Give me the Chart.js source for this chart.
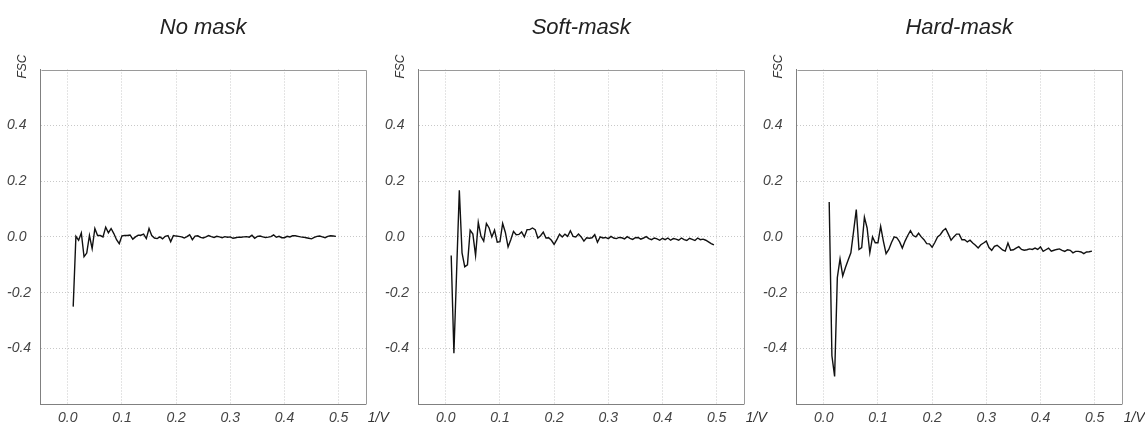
<!DOCTYPE html>
<html>
<head>
<meta charset="utf-8">
<title>FSC</title>
<script src="https://cdn.jsdelivr.net/npm/chart.js@4/dist/chart.umd.min.js"></script>
<style>
    html, body { margin: 0; padding: 0; background: #fff; overflow: hidden; }
    #wrap { position: relative; width: 1145px; height: 425px; }
    #wrap canvas { position: absolute; top: 0; }
</style>
</head>
<body>
<div id="wrap">
    <canvas id="chartNoMask" width="390" height="425" style="left:0px"></canvas>
    <canvas id="chartSoftMask" width="390" height="425" style="left:378px"></canvas>
    <canvas id="chartHardMask" width="390" height="425" style="left:756px"></canvas>
</div>
<script>
// Dados
const titles = ['No mask', 'Soft-mask', 'Hard-mask'];
const xTicks = [0.0, 0.1, 0.2, 0.3, 0.4, 0.5];
const yTicks = [-0.4, -0.2, 0.0, 0.2, 0.4];
const xLabel = '1/V';
const yLabel = 'FSC';

const freq = [
    0.010, 0.015, 0.020, 0.025, 0.030, 0.035, 0.040, 0.045, 0.050, 0.055,
    0.060, 0.065, 0.070, 0.075, 0.080, 0.085, 0.090, 0.095, 0.100, 0.105,
    0.110, 0.115, 0.120, 0.125, 0.130, 0.135, 0.140, 0.145, 0.150, 0.155,
    0.160, 0.165, 0.170, 0.175, 0.180, 0.185, 0.190, 0.195, 0.200, 0.205,
    0.210, 0.215, 0.220, 0.225, 0.230, 0.235, 0.240, 0.245, 0.250, 0.255,
    0.260, 0.265, 0.270, 0.275, 0.280, 0.285, 0.290, 0.295, 0.300, 0.305,
    0.310, 0.315, 0.320, 0.325, 0.330, 0.335, 0.340, 0.345, 0.350, 0.355,
    0.360, 0.365, 0.370, 0.375, 0.380, 0.385, 0.390, 0.395, 0.400, 0.405,
    0.410, 0.415, 0.420, 0.425, 0.430, 0.435, 0.440, 0.445, 0.450, 0.455,
    0.460, 0.465, 0.470, 0.475, 0.480, 0.485, 0.490, 0.495
];

const noMask = [
    -0.25, 0.002, -0.012, 0.014, -0.071, -0.058, 0.005, -0.042, 0.03, 0.005,
    0.005, 0.0, 0.035, 0.015, 0.03, 0.012, -0.01, -0.024, 0.004, 0.005,
    0.005, 0.007, -0.008, 0.0, 0.006, 0.006, 0.01, -0.006, 0.03, 0.005,
    -0.004, -0.006, 0.0, -0.007, 0.002, 0.005, -0.017, 0.005, 0.003, 0.002,
    0.0, -0.004, 0.001, 0.008, -0.01, 0.003, 0.004, -0.002, -0.004, 0.0,
    0.005, 0.001, -0.002, 0.002, 0.0, -0.003, 0.001, -0.001, 0.0, -0.005,
    -0.003, -0.001, -0.001, 0.0, 0.001, -0.001, 0.006, -0.005, 0.002, 0.003,
    0.0, -0.002, -0.001, 0.001, 0.007, -0.001, 0.002, -0.003, -0.003, 0.002,
    0.0, 0.004, 0.004, 0.002, 0.0, -0.001, -0.003, -0.005, -0.007, -0.002,
    0.002, 0.003, 0.0, -0.003, 0.002, 0.004, 0.003, 0.002
];

const softMask = [
    -0.067, -0.417, -0.125, 0.167, -0.057, -0.107, -0.10, 0.024, 0.01, -0.067,
    0.052, 0.002, -0.015, 0.048, 0.032, 0.0, 0.024, -0.019, -0.017, 0.048,
    0.016, -0.036, -0.01, 0.02, 0.008, 0.009, 0.018, 0.0, 0.026, 0.026,
    0.032, 0.026, -0.004, 0.004, 0.017, -0.004, -0.003, -0.012, -0.027, -0.01,
    0.01, 0.0, 0.01, 0.002, 0.022, 0.002, 0.0, 0.01, 0.0, -0.015,
    -0.003, -0.005, -0.003, 0.008, -0.019, 0.0, -0.004, -0.002, -0.006, 0.002,
    -0.004, -0.006, -0.002, -0.003, -0.007, 0.001, -0.005, -0.009, -0.003, -0.002,
    -0.008, -0.004, 0.001, -0.006, -0.01, -0.004, -0.007, -0.012, -0.005, -0.01,
    -0.004, -0.012, -0.006, -0.008, -0.012, -0.004, -0.01, -0.013, -0.005, -0.009,
    -0.013, -0.004, -0.01, -0.008, -0.012, -0.018, -0.024, -0.029
];

const hardMask = [
    0.125, -0.426, -0.50, -0.146, -0.079, -0.14, -0.11, -0.083, -0.057, 0.02,
    0.098, -0.045, -0.038, 0.071, 0.032, -0.057, 0.0, -0.021, -0.021, 0.038,
    -0.015, -0.06, -0.045, -0.02, 0.0, -0.003, -0.018, -0.04, -0.015, 0.005,
    0.022, 0.005, 0.0, 0.013, 0.0, -0.01, -0.024, -0.025, -0.037, -0.02,
    0.0, 0.008, 0.022, 0.03, 0.01, -0.012, 0.0, 0.01, 0.01, -0.01,
    -0.01, -0.018, -0.012, -0.022, -0.03, -0.04, -0.028, -0.022, -0.015, -0.038,
    -0.048, -0.034, -0.03, -0.038, -0.047, -0.051, -0.022, -0.048, -0.046, -0.04,
    -0.035, -0.045, -0.048, -0.046, -0.043, -0.045, -0.04, -0.045, -0.036, -0.052,
    -0.046, -0.04, -0.051, -0.048, -0.045, -0.043, -0.048, -0.052, -0.046, -0.048,
    -0.057, -0.052, -0.052, -0.054, -0.06, -0.054, -0.053, -0.051
];

const fontFamily = '"Liberation Sans", Arial, Helvetica, sans-serif';
const tickFont = { family: fontFamily, size: 14, style: 'italic' };

// Moldura superior/direita e rótulos dos eixos
const framePlugin = {
    id: 'frame',
    afterDraw(chart) {
        const { ctx, chartArea: a } = chart;
        ctx.save();
        ctx.strokeStyle = '#9a9a9a';
        ctx.lineWidth = 1;
        ctx.beginPath();
        ctx.moveTo(Math.round(a.left) + 0.5, Math.round(a.top) + 0.5);
        ctx.lineTo(Math.round(a.right) + 0.5, Math.round(a.top) + 0.5);
        ctx.lineTo(Math.round(a.right) + 0.5, Math.round(a.bottom) + 0.5);
        ctx.stroke();

        ctx.fillStyle = '#333';
        ctx.font = 'italic 14px ' + fontFamily;
        ctx.textAlign = 'left';
        ctx.textBaseline = 'middle';
        ctx.fillText(xLabel, a.right + 2, 418);

        ctx.translate(22.5, 66.5);
        ctx.rotate(-Math.PI / 2);
        ctx.font = 'italic 12px ' + fontFamily;
        ctx.textAlign = 'center';
        ctx.fillText(yLabel, 0, 0);
        ctx.restore();
    }
};

function makeChart(id, title, values) {
    const ctx = document.getElementById(id).getContext('2d');
    return new Chart(ctx, {
        type: 'line',
        data: {
            datasets: [{
                data: freq.map((f, i) => ({ x: f, y: values[i] })),
                borderColor: '#111',
                borderWidth: 1.4,
                pointRadius: 0,
                tension: 0,
                fill: false
            }]
        },
        options: {
            responsive: false,
            animation: false,
            devicePixelRatio: 1,
            layout: { padding: { left: 7, right: 24.3, top: 0, bottom: 0 } },
            plugins: {
                legend: { display: false },
                tooltip: { enabled: false },
                title: {
                    display: true,
                    text: title,
                    fullSize: false,
                    color: '#222',
                    font: { family: fontFamily, size: 22, style: 'italic', weight: 'normal' },
                    padding: { top: 15, bottom: 28.1 }
                }
            },
            scales: {
                x: {
                    type: 'linear',
                    min: -0.05,
                    max: 0.55,
                    afterBuildTicks: s => { s.ticks = xTicks.map(v => ({ value: v })); },
                    afterFit: s => { s.height = 20.7; },
                    ticks: {
                        callback: v => v.toFixed(1),
                        font: tickFont,
                        color: '#444',
                        padding: 5,
                        maxRotation: 0,
                        autoSkip: false
                    },
                    grid: { color: '#c8c8c8', drawTicks: false, tickLength: 0 },
                    border: { color: '#808080', width: 1, dash: [1, 2] }
                },
                y: {
                    min: -0.6,
                    max: 0.6,
                    afterBuildTicks: s => { s.ticks = yTicks.map(v => ({ value: v })); },
                    afterFit: s => { s.width = 33.7; },
                    ticks: {
                        callback: v => v.toFixed(1),
                        font: tickFont,
                        color: '#444',
                        crossAlign: 'far',
                        padding: 0,
                        autoSkip: false
                    },
                    grid: { color: '#c8c8c8', drawTicks: false, tickLength: 0 },
                    border: { color: '#808080', width: 1, dash: [1, 2] }
                }
            }
        },
        plugins: [framePlugin]
    });
}

document.addEventListener('DOMContentLoaded', function() {
    makeChart('chartNoMask', titles[0], noMask);
    makeChart('chartSoftMask', titles[1], softMask);
    makeChart('chartHardMask', titles[2], hardMask);
});
</script>
</body>
</html>
